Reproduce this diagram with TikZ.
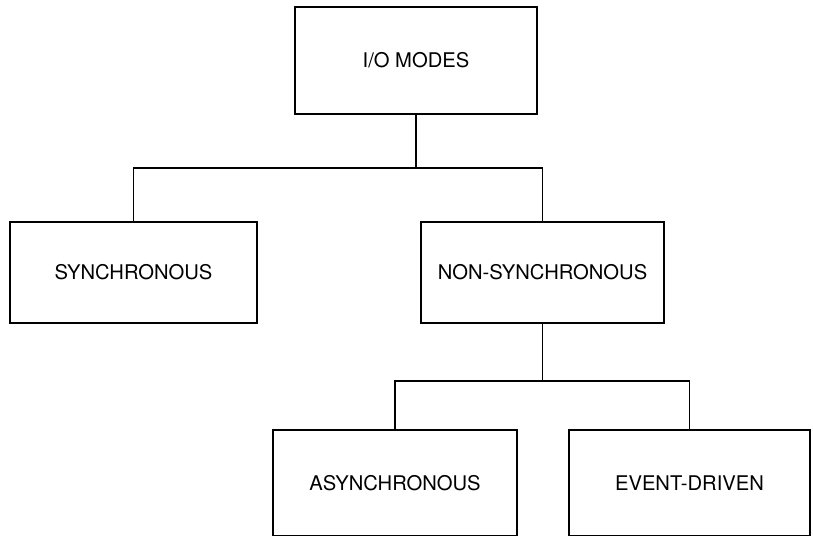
\documentclass[tikz,border=0pt]{standalone}
\usepackage{fontspec}
\setmainfont{TeX Gyre Heros}
\usepackage{tikz}
\usetikzlibrary{positioning}

\begin{document}
\begin{tikzpicture}[
    x=0.02cm, y=-0.02cm,
    mode/.style={rectangle, draw=black, line width=1.2pt, fill=white, inner sep=0pt,
                 font=\fontsize{11.5}{14}\selectfont},
    link/.style={line width=0.8pt, black}
]
    \useasboundingbox (0,0) rectangle (813,535);
    \clip (0,0) rectangle (813,535);

    % --- Top level
    \node[mode, minimum width=4.84cm, minimum height=2.14cm] (io) at (416,60.5) {I/O MODES};

    % --- Second level
    \node[mode, minimum width=4.94cm, minimum height=2.02cm] (sync) at (133.5,272.5) {SYNCHRONOUS};
    \node[mode, minimum width=4.86cm, minimum height=2.02cm] (nonsync) at (542.5,272.5) {NON-SYNCHRONOUS};

    % --- Third level (cut off at the bottom)
    \node[mode, minimum width=4.88cm, minimum height=2.12cm] (async) at (395,483) {ASYNCHRONOUS};
    \node[mode, minimum width=4.82cm, minimum height=2.12cm] (event) at (689.5,483) {EVENT-DRIVEN};

    \coordinate (busA) at (0,168);
    \coordinate (busB) at (0,381);

    \draw[link] (io.south) -- (io.south |- busA);
    \draw[link] (sync.north) -- (sync.north |- busA) -- (nonsync.north |- busA) -- (nonsync.north);

    \draw[link] (nonsync.south) -- (nonsync.south |- busB);
    \draw[link] (async.north) -- (async.north |- busB) -- (event.north |- busB) -- (event.north);

\end{tikzpicture}
\end{document}
